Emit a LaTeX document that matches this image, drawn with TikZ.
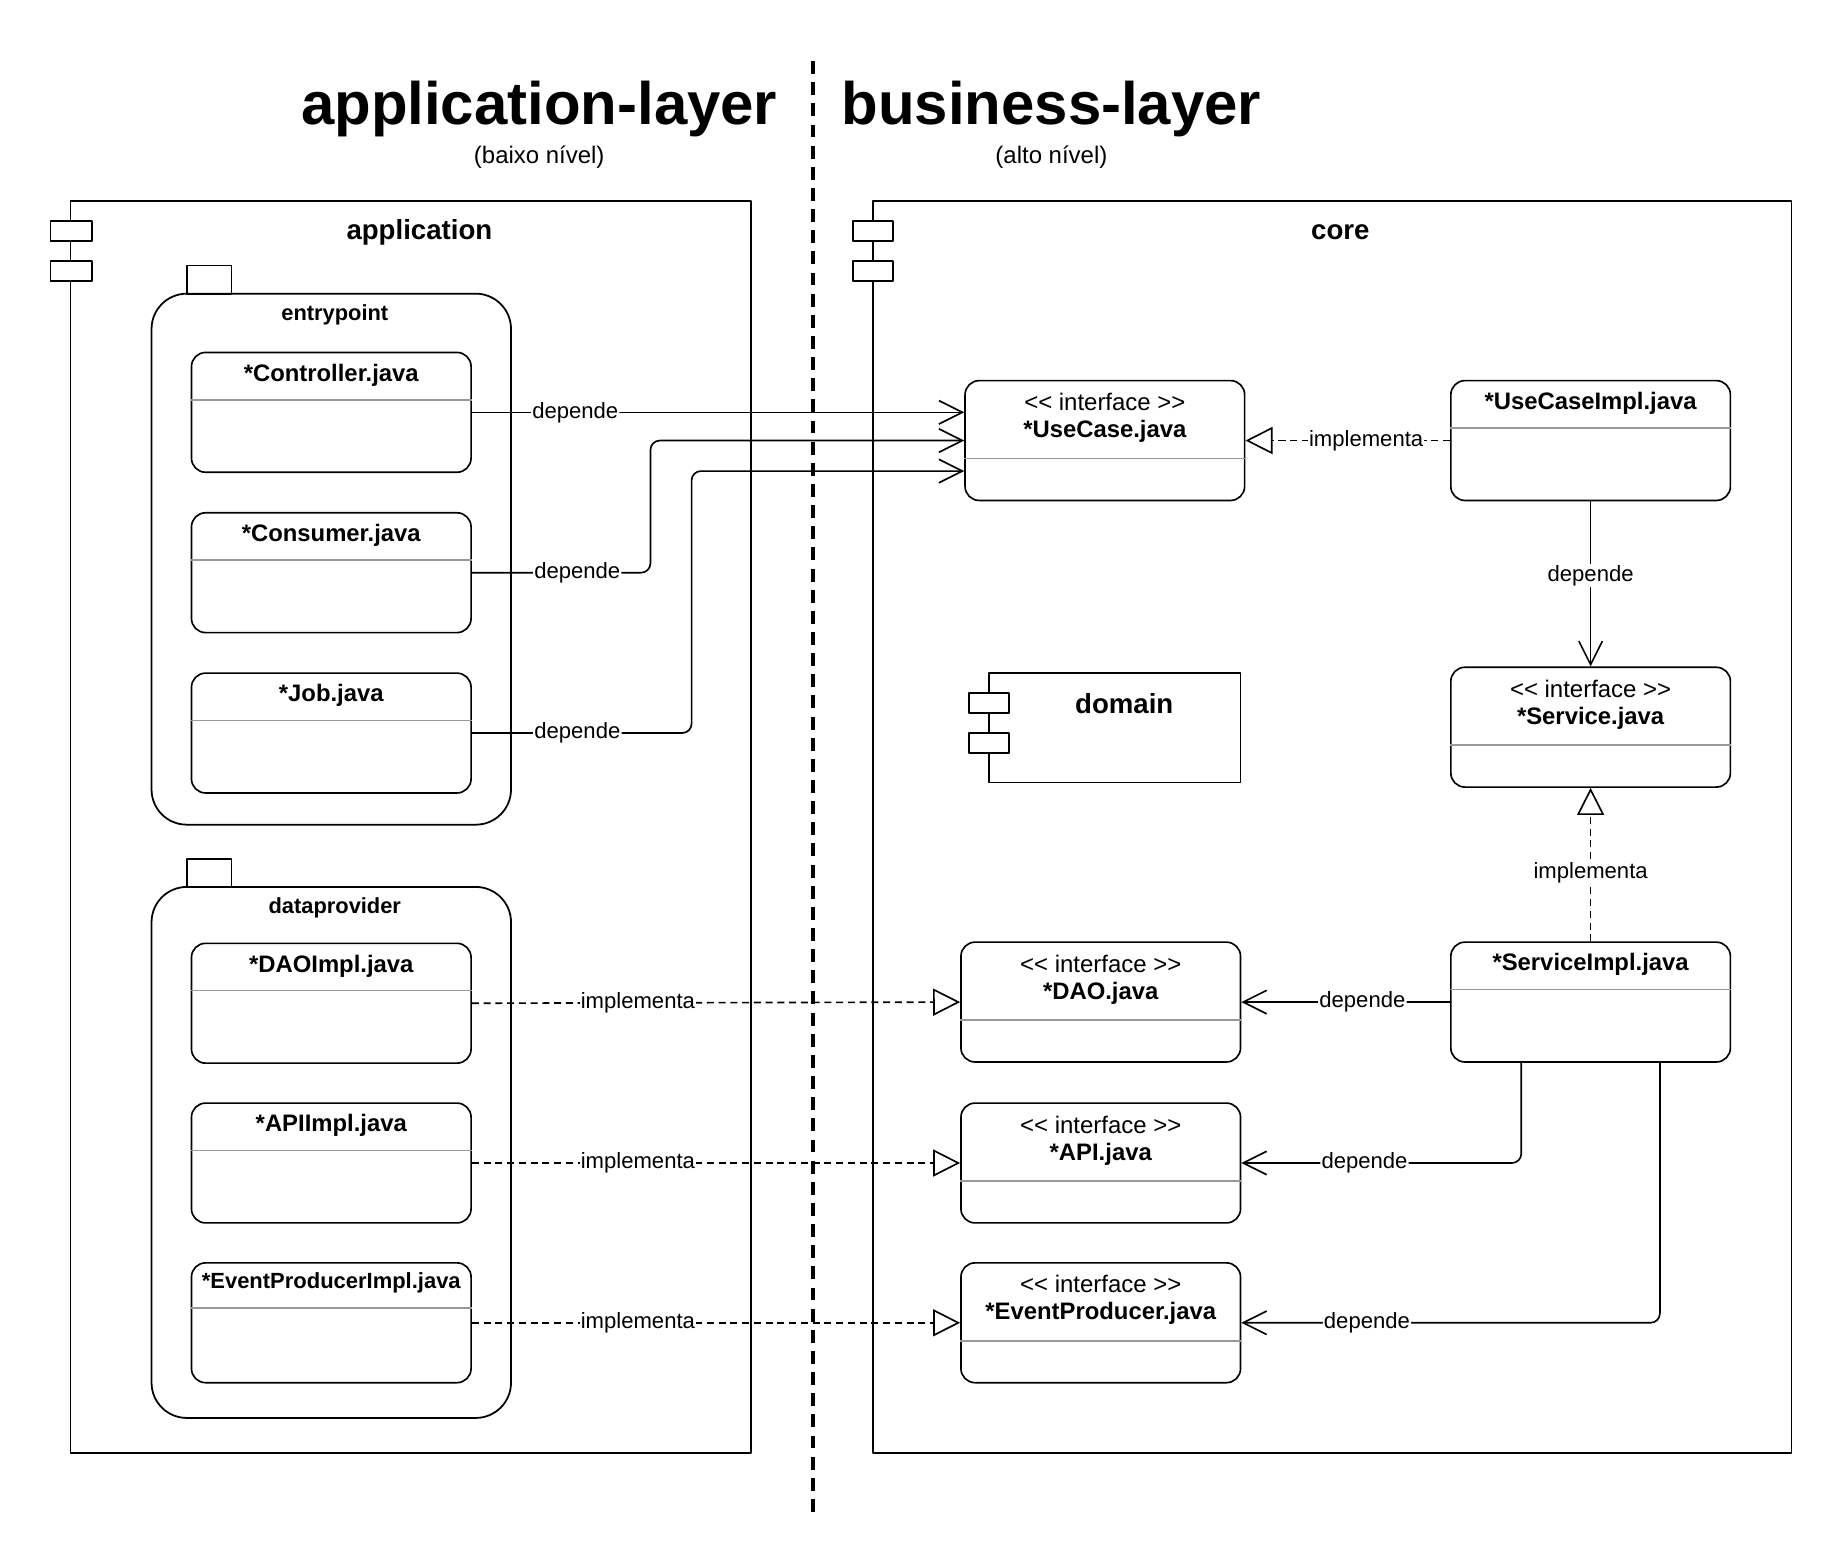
\documentclass[tikz,border=0pt]{standalone}
\usepackage{fontspec}
\setmainfont{Liberation Sans}[Ligatures=TeXOff]
\usetikzlibrary{arrows.meta}

\begin{document}
\begin{tikzpicture}[x=1pt, y=-1pt, line join=round,
  big/.style={font=\fontsize{51}{60}\selectfont\bfseries},
  sub/.style={font=\fontsize{20.4}{24}\selectfont},
  comptitle/.style={font=\fontsize{23.5}{28}\selectfont\bfseries},
  pkgtitle/.style={font=\fontsize{18.6}{22}\selectfont\bfseries},
  frame/.style={draw, line width=1.5pt},
  tab/.style={draw, line width=1.5pt, fill=white},
  cls/.style={draw, line width=1.4pt, rounded corners=12pt, fill=white,
    minimum width=238pt, minimum height=102pt, inner sep=0pt},
  clsname/.style={font=\fontsize{20.3}{24}\selectfont\bfseries, inner sep=0pt},
  stereo/.style={font=\fontsize{20.4}{24}\selectfont, inner sep=0pt},
  sep/.style={draw=black!40, line width=1.4pt},
  lbl/.style={font=\fontsize{18.8}{22}\selectfont, fill=white, inner sep=1pt},
  dep/.style={draw, line width=1.4pt, rounded corners=8pt,
    -{Straight Barb[length=20pt, width=20pt, line width=1.4pt]}},
  impl/.style={draw, line width=1.4pt, dash pattern=on 6pt off 4pt,
    -{Triangle[open, fill=white, length=23pt, width=23pt, line width=1.4pt]}}
]
\useasboundingbox (0,0) rectangle (1568,1333);

% layers
\node[big] (appl) at (459,93) {application-layer};
\node[sub] (appls) at (459,134) {(baixo nível)};
\node[big] (busl) at (895,93) {business-layer};
\node[sub] (busls) at (895,134) {(alto nível)};

% components
\draw[frame] (60,171) rectangle (639,1237);
\foreach \y in {188,222} \draw[tab] (43,\y) rectangle ++(35,17);
\node[comptitle] (appt) at (357,198) {application};
\draw[frame] (743,171) rectangle (1525,1237);
\foreach \y in {188,222} \draw[tab] (726,\y) rectangle ++(34,17);
\node[comptitle] (coret) at (1141,198) {core};
\draw[frame] (842,573) rectangle (1056,666);
\foreach \y in {590,624} \draw[tab] (825,\y) rectangle ++(34,17);
\node[comptitle] (domt) at (957,599) {domain};

% packages
\foreach \y/\nm in {250/entrypoint, 755/dataprovider} {
  \draw[frame] (159,\y-24) rectangle ++(38,24);
  \draw[frame, rounded corners=30pt] (129,\y) rectangle ++(306,452);
  \node[pkgtitle] (\nm) at (285,\y+18) {\nm};
}

\draw[line width=3pt, dash pattern=on 11pt off 7pt] (692,52) -- (692,1288);

% classes
\foreach \nm/\txt/\x/\y in {ctrl/Controller/282/351, cons/Consumer/282/487.5,
    job/Job/282/624, daoi/DAOImpl/282/854, apii/APIImpl/282/990,
    uci/UseCaseImpl/1354/375, srvi/ServiceImpl/1354/853} {
  \node[cls] (\nm) at (\x,\y) {};
  \node[clsname] (\nm-t) at ([yshift=-20pt]\nm.north) {*\txt.java};
  \draw[sep] ([yshift=-41pt]\nm.north west) -- ([yshift=-41pt]\nm.north east);
}
\node[cls] (evi) at (282,1126) {};
\node[clsname, font=\fontsize{18.7}{22}\selectfont\bfseries] (evi-t)
  at ([yshift=-18pt]evi.north) {*EventProducerImpl.java};
\draw[sep] ([yshift=-39pt]evi.north west) -- ([yshift=-39pt]evi.north east);

% interfaces
\foreach \nm/\txt/\x/\y in {uc/UseCase/940.5/375, srv/Service/1354/619,
    dao/DAO/937/853, api/API/937/990, ev/EventProducer/937/1126} {
  \node[cls] (\nm) at (\x,\y) {};
  \node[stereo] (\nm-s) at ([yshift=-19pt]\nm.north) {<< interface >>};
  \node[clsname] (\nm-t) at ([yshift=-44pt]\nm.north) {*\txt.java};
  \draw[sep] ([yshift=-67pt]\nm.north west) -- ([yshift=-67pt]\nm.north east);
}

% connectors
\draw[dep] (ctrl.east) -- node[lbl, pos=0.21] {depende} (ctrl.east -| uc.west);
\draw[dep] (cons.east) -- node[lbl, pos=0.59] {depende} ++(152,0) |- (uc.west);
\draw[dep] (job.east) -- node[lbl, pos=0.48] {depende} ++(187,0)
  |- ([yshift=-26pt]uc.west);
\draw[impl] (uci.west) -- node[lbl, pos=0.41] {implementa} (uc.east);
\draw[dep] (uci.south) -- node[lbl, pos=0.45] {depende} (srv.north);
\draw[impl] (srvi.north) -- node[lbl, pos=0.45] {implementa} (srv.south);
\draw[dep] (srvi.west) -- node[lbl, pos=0.42] {depende} (dao.east);
\draw[dep] ([xshift=-59pt]srvi.south) |- node[lbl, pos=0.78] {depende} (api.east);
\draw[dep] ([xshift=59pt]srvi.south) |- node[lbl, pos=0.85] {depende} (ev.east);
\foreach \a/\b in {daoi/dao, apii/api, evi/ev}
  \draw[impl] (\a.east) -- node[lbl, pos=0.34] {implementa} (\b.west);
\end{tikzpicture}
\end{document}
